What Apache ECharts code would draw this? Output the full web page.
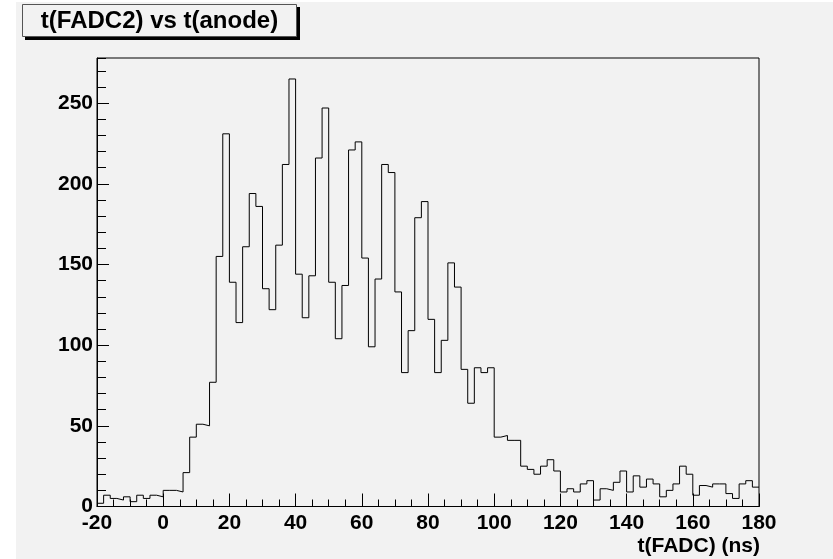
<!DOCTYPE html>
<html>
<head>
<meta charset="utf-8">
<script src="https://cdn.jsdelivr.net/npm/echarts@6/dist/echarts.min.js"></script>
<style>
  html, body { margin: 0; padding: 0; background: #ffffff; }
  #chart { width: 833px; height: 559px; }
</style>
</head>
<body>
<div id="chart"></div>
<script>
// Histogram binning: 100 bins of 2 ns from -20 ns to 180 ns
const binLow = -20;
const binWidth = 2;

// Entries per bin, in order starting at binLow
const counts = [
  2, 7, 5, 4, 6, 3, 7, 5, 7, 6,
  10, 10, 9, 21, 43, 51, 50, 77, 155, 231,
  139, 114, 161, 194, 186, 135, 122, 162, 212, 265,
  144, 117, 143, 216, 247, 139, 104, 137, 221, 226,
  154, 99, 141, 212, 207, 133, 83, 109, 179, 189,
  116, 83, 103, 151, 136, 85, 64, 86, 83, 86,
  43, 44, 41, 41, 25, 23, 20, 25, 29, 22,
  9, 11, 9, 14, 16, 4, 11, 10, 15, 22,
  9, 19, 12, 17, 14, 6, 10, 14, 25, 20,
  7, 13, 12, 14, 14, 8, 5, 14, 16, 12
];

// Axis ranges and tick spacing
const xRange = [-20, 180];
const xMajorStep = 20;
const xMinorStep = 5;
const yRange = [0, 278];
const yMajorStep = 50;
const yMinorStep = 10;

const titleText = 't(FADC2) vs t(anode)';
const xTitle = 't(FADC) (ns)';

const canvasGray = '#f2f2f2';
const labelFont = { fontFamily: 'Liberation Sans, Arial, sans-serif', fontWeight: 'bold', fontSize: 21, color: '#000' };

// Step outline: each bin starts at its low edge, closed at the upper edge of the last bin
const histPoints = counts.map((c, i) => [binLow + i * binWidth, c]);
histPoints.push([binLow + counts.length * binWidth, counts[counts.length - 1]]);

const chart = echarts.init(document.getElementById('chart'), null, { renderer: 'canvas' });

const gridBox = { left: 97, top: 58, width: 662, height: 448.5 };

chart.setOption({
  animation: false,
  backgroundColor: 'transparent',
  graphic: [
    { type: 'rect', z: -10, silent: true, shape: { x: 16, y: 2, width: 833, height: 559 }, style: { fill: canvasGray } },
    // title pave with drop shadow
    { type: 'rect', z: 5, silent: true, shape: { x: 25, y: 7, width: 275, height: 33 }, style: { fill: '#000' } },
    { type: 'rect', z: 6, silent: true, shape: { x: 22.5, y: 4.5, width: 274, height: 32 }, style: { fill: canvasGray, stroke: '#555', lineWidth: 1 } },
    { type: 'text', z: 7, silent: true, x: 159.5, y: 21, style: { text: titleText, align: 'center', verticalAlign: 'middle', font: 'bold 24px "Liberation Sans", Arial, sans-serif', fill: '#000' } },
    // x axis title, right-aligned to the frame edge
    { type: 'text', z: 7, silent: true, x: 760, y: 546, style: { text: xTitle, align: 'right', verticalAlign: 'middle', font: 'bold 21px "Liberation Sans", Arial, sans-serif', fill: '#000' } }
  ],
  grid: Object.assign({ show: true, borderColor: '#000', borderWidth: 1, backgroundColor: canvasGray, containLabel: false }, gridBox),
  xAxis: [
    {
      type: 'value', position: 'bottom', min: xRange[0], max: xRange[1], interval: xMajorStep,
      axisLine: { show: true, onZero: false, lineStyle: { color: '#000', width: 1 } },
      axisTick: { show: true, inside: true, length: 13, lineStyle: { color: '#000', width: 1 } },
      axisLabel: Object.assign({ show: true, margin: 6 }, labelFont),
      splitLine: { show: false }
    },
    {
      type: 'value', position: 'bottom', min: xRange[0], max: xRange[1], interval: xMinorStep,
      axisLine: { show: false, onZero: false },
      axisTick: { show: true, inside: true, length: 7, lineStyle: { color: '#000', width: 1 } },
      axisLabel: { show: false },
      splitLine: { show: false }
    }
  ],
  yAxis: [
    {
      type: 'value', position: 'left', min: yRange[0], max: yRange[1], interval: yMajorStep,
      axisLine: { show: true, onZero: false, lineStyle: { color: '#000', width: 1 } },
      axisTick: { show: true, inside: true, length: 12, lineStyle: { color: '#000', width: 1 } },
      axisLabel: Object.assign({ show: true, margin: 4, showMaxLabel: false }, labelFont),
      splitLine: { show: false }
    },
    {
      type: 'value', position: 'left', min: yRange[0], max: yRange[1], interval: yMinorStep,
      axisLine: { show: false, onZero: false },
      axisTick: { show: true, inside: true, length: 9, lineStyle: { color: '#000', width: 1 } },
      axisLabel: { show: false },
      splitLine: { show: false }
    }
  ],
  series: [
    {
      type: 'line',
      xAxisIndex: 0,
      yAxisIndex: 0,
      step: 'end',
      data: histPoints,
      showSymbol: false,
      symbol: 'none',
      clip: true,
      lineStyle: { color: '#000', width: 1 },
      emphasis: { disabled: true }
    }
  ]
});
</script>
</body>
</html>
